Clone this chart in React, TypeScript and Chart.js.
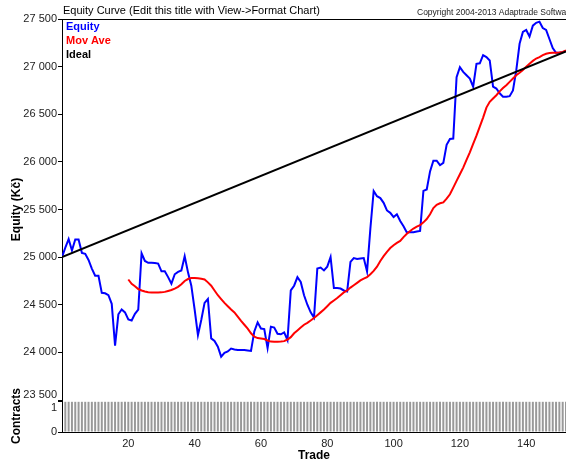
import React, { useEffect, useRef } from 'react';
import { Chart, registerables } from 'chart.js';

Chart.register(...registerables);

const chartTitle = 'Equity Curve (Edit this title with View->Format Chart)';
const copyrightText = 'Copyright 2004-2013 Adaptrade Software';

// Equity per trade, trade 0..152
const equity = [
  25000, 25100, 25190, 25070, 25185, 25185, 25045, 25035, 24970, 24880,
  24805, 24805, 24625, 24620, 24600, 24510, 24070, 24400, 24450, 24420,
  24345, 24335, 24405, 24450, 25040, 24960, 24940, 24940, 24938, 24932,
  24851, 24851, 24790, 24721, 24820, 24845, 24860, 25009, 24840, 24700,
  24450, 24180, 24340, 24520, 24560, 24147, 24120, 24060, 23955, 23995,
  24010, 24040, 24030, 24025, 24025, 24025, 24020, 24015, 24220, 24315,
  24250, 24245, 24045, 24270, 24260, 24195, 24190, 24210, 24130, 24650,
  24700, 24790, 24740, 24600, 24500, 24420, 24365, 24880, 24890, 24860,
  24900, 25000, 24675, 24675, 24670, 24650, 24640, 24950, 24990, 24980,
  24985, 24990, 24850, 25300, 25695, 25640, 25620, 25570, 25490, 25465,
  25420, 25450, 25380, 25325, 25260, 25262, 25262, 25270, 25275, 25695,
  25710, 25900, 26012, 26012, 25965, 25990, 26180, 26240, 26245, 26890,
  26995, 26945, 26910, 26875, 26790, 27030, 27035, 27120, 27100, 27065,
  26790, 26770, 26720, 26685, 26685, 26690, 26750, 26960, 27240, 27365,
  27385, 27315, 27430, 27460, 27472, 27405, 27385, 27290, 27195, 27145,
  27145, 27150, 27165,
];

// Moving average, starting at trade 20
const movAveStart = 20;
const movAve = [
  24765, 24720, 24695, 24665, 24650, 24640, 24632, 24629, 24629, 24629,
  24630, 24635, 24645, 24655, 24670, 24688, 24715, 24750, 24770, 24780,
  24782, 24778, 24772, 24765, 24735, 24700, 24650, 24600, 24560, 24520,
  24485, 24450, 24420, 24375, 24330, 24290, 24250, 24200, 24165, 24150,
  24145, 24140, 24125, 24113, 24112, 24112, 24113, 24118, 24135, 24160,
  24200, 24230, 24260, 24290, 24310, 24335, 24360, 24390, 24420, 24450,
  24485, 24520, 24545, 24570, 24600, 24630, 24650, 24680, 24705, 24730,
  24755, 24775, 24790, 24820, 24855, 24900, 24960, 25010, 25055, 25095,
  25125, 25150, 25170, 25210, 25245, 25275, 25300, 25320, 25335, 25365,
  25400, 25450, 25515, 25550, 25565, 25575, 25615, 25660, 25730, 25800,
  25870, 25940, 26020, 26100, 26190, 26275, 26370, 26465, 26570, 26630,
  26665, 26700, 26740, 26775, 26805, 26840, 26875, 26910, 26935, 26965,
  27000, 27030, 27060, 27085, 27100, 27120, 27135, 27142, 27145, 27145,
  27148, 27155, 27170,
];

const idealTrades = [0, 152];
const idealValues = [25000, 27160];

// Contracts per trade, trades 1..152
const contractsStart = 1;
const contracts = [
  1, 1, 1, 1, 1, 1, 1, 1, 1, 1, 1, 1, 1, 1, 1, 1, 1, 1, 1, 1,
  1, 1, 1, 1, 1, 1, 1, 1, 1, 1, 1, 1, 1, 1, 1, 1, 1, 1, 1, 1,
  1, 1, 1, 1, 1, 1, 1, 1, 1, 1, 1, 1, 1, 1, 1, 1, 1, 1, 1, 1,
  1, 1, 1, 1, 1, 1, 1, 1, 1, 1, 1, 1, 1, 1, 1, 1, 1, 1, 1, 1,
  1, 1, 1, 1, 1, 1, 1, 1, 1, 1, 1, 1, 1, 1, 1, 1, 1, 1, 1, 1,
  1, 1, 1, 1, 1, 1, 1, 1, 1, 1, 1, 1, 1, 1, 1, 1, 1, 1, 1, 1,
  1, 1, 1, 1, 1, 1, 1, 1, 1, 1, 1, 1, 1, 1, 1, 1, 1, 1, 1, 1,
  1, 1, 1, 1, 1, 1, 1, 1, 1, 1, 1, 1,
];

const equityMin = 23500;
const equityMax = 27500;
const equityStep = 500;
const tradeMax = 152;
const tradeStep = 20;
const contractTicks = [0, 1];

const FONT = '"Liberation Sans", Arial, sans-serif';
const TICK_COLOR = '#222';

const fmt = (v: number) => String(Math.round(v)).replace(/\B(?=(\d{3})+(?!\d))/g, ' ');

const headerPlugin = {
  id: 'header',
  afterDraw(chart: any) {
    const { ctx, chartArea } = chart;
    ctx.save();
    ctx.fillStyle = '#000';
    ctx.textBaseline = 'middle';
    ctx.textAlign = 'left';
    ctx.font = `11px ${FONT}`;
    ctx.fillText(chartTitle, chartArea.left + 1, 11);
    ctx.font = `8.5px ${FONT}`;
    ctx.fillStyle = '#222';
    ctx.fillText(copyrightText, 417, 13);
    ctx.strokeStyle = '#000';
    ctx.lineWidth = 1;
    ctx.beginPath();
    ctx.moveTo(chartArea.left, chartArea.top + 0.5);
    ctx.lineTo(chartArea.right, chartArea.top + 0.5);
    ctx.stroke();
    ctx.font = `bold 11px ${FONT}`;
    const items = chart.data.datasets.filter((d: any) => d.type === 'line');
    items.forEach((d: any, i: number) => {
      ctx.fillStyle = d.borderColor;
      ctx.fillText(d.label, chartArea.left + 4, 27 + i * 14);
    });
    // edge tick labels nudged inside their panels
    const yMain = chart.scales.y;
    const yCon = chart.scales.y2;
    ctx.font = `11px ${FONT}`;
    ctx.fillStyle = TICK_COLOR;
    ctx.textAlign = 'right';
    ctx.fillText(fmt(equityMin), yMain.right - 5, yMain.getPixelForValue(equityMin) - 5);
    ctx.fillText(String(contractTicks[1]), yCon.right - 5, yCon.getPixelForValue(contractTicks[1]) + 6);
    ctx.restore();
  },
};

export default function App() {
  const ref = useRef<HTMLCanvasElement | null>(null);

  useEffect(() => {
    if (!ref.current) return;
    const chart = new Chart(ref.current, {
      type: 'line',
      data: {
        datasets: [
          {
            type: 'line',
            label: 'Equity',
            data: equity.map((v, i) => ({ x: i, y: v })),
            borderColor: '#0000ff',
            borderWidth: 2,
            pointRadius: 0,
            yAxisID: 'y',
            order: 2,
          },
          {
            type: 'line',
            label: 'Mov Ave',
            data: movAve.map((v, i) => ({ x: i + movAveStart, y: v })),
            borderColor: '#ff0000',
            borderWidth: 2,
            pointRadius: 0,
            yAxisID: 'y',
            order: 1,
          },
          {
            type: 'line',
            label: 'Ideal',
            data: idealTrades.map((t, i) => ({ x: t, y: idealValues[i] })),
            borderColor: '#000000',
            borderWidth: 2,
            pointRadius: 0,
            yAxisID: 'y',
            order: 0,
          },
          {
            type: 'bar',
            label: 'Contracts',
            data: contracts.map((v, i) => ({ x: i + contractsStart, y: v })),
            backgroundColor: '#999999',
            barPercentage: 0.6,
            categoryPercentage: 1,
            yAxisID: 'y2',
            order: 3,
          },
        ] as any,
      },
      options: {
        animation: false,
        responsive: false,
        layout: { padding: { top: 19, left: 0, right: 0, bottom: 0 } },
        plugins: {
          legend: { display: false },
          tooltip: { enabled: false },
        },
        scales: {
          x: {
            type: 'linear',
            min: 0,
            max: tradeMax,
            offset: false,
            grid: { display: false, drawTicks: false },
            border: { display: true, color: '#000', width: 1 },
            ticks: {
              stepSize: tradeStep,
              includeBounds: false,
              padding: 5,
              color: TICK_COLOR,
              font: { size: 11, family: FONT },
              maxRotation: 0,
              callback: (v: any) => (v === 0 ? '' : String(v)),
            },
            title: {
              display: true,
              text: 'Trade',
              color: '#000',
              font: { size: 12, weight: 'bold', family: FONT },
              padding: { top: 0, bottom: 3 },
            },
            afterFit: (s: any) => { s.height = 34; },
          },
          y2: {
            type: 'linear',
            position: 'left',
            stack: 'panels',
            stackWeight: 32,
            min: 0,
            max: 1.06,
            grid: { drawOnChartArea: false, drawTicks: true, tickLength: 4, color: '#000' },
            border: { display: true, color: '#000', width: 1 },
            afterBuildTicks: (s: any) => { s.ticks = contractTicks.map((v) => ({ value: v })); },
            ticks: {
              padding: 1,
              color: TICK_COLOR,
              font: { size: 11, family: FONT },
              callback: (v: any) => (v === contractTicks[1] ? '' : String(v)),
            },
            title: {
              display: true,
              text: 'Contracts',
              color: '#000',
              font: { size: 12, weight: 'bold', family: FONT },
              padding: { top: 9, bottom: 0 },
            },
            afterFit: (s: any) => { s.width = 62; },
          },
          y: {
            type: 'linear',
            position: 'left',
            stack: 'panels',
            stackWeight: 381,
            min: equityMin,
            max: equityMax,
            grid: { drawOnChartArea: false, drawTicks: true, tickLength: 4, color: '#000' },
            border: { display: true, color: '#000', width: 1 },
            ticks: {
              stepSize: equityStep,
              padding: 1,
              color: TICK_COLOR,
              font: { size: 11, family: FONT },
              callback: (v: any) => (Number(v) === equityMin ? '' : fmt(Number(v))),
            },
            title: {
              display: true,
              text: 'Equity (Kč)',
              color: '#000',
              font: { size: 12, weight: 'bold', family: FONT },
              padding: { top: 9, bottom: 0 },
            },
            afterFit: (s: any) => { s.width = 62; },
          },
        },
      } as any,
      plugins: [headerPlugin],
    });
    return () => chart.destroy();
  }, []);

  return (
    <div style={{ position: 'absolute', left: 0, top: 0, width: 566, height: 466, background: '#fff' }}>
      <canvas ref={ref} width={566} height={466} style={{ display: 'block' }} />
    </div>
  );
}
